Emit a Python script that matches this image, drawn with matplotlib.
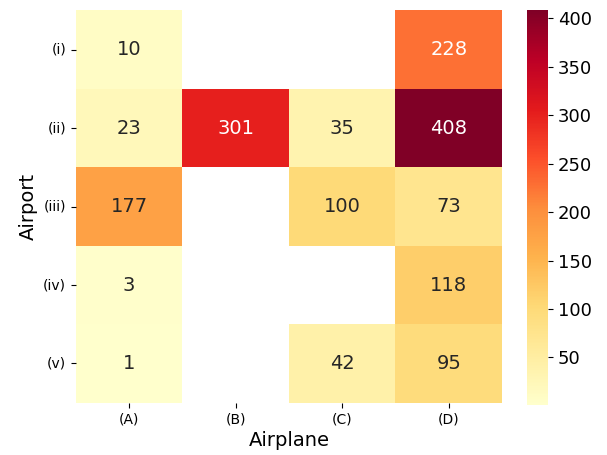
import numpy as np
import matplotlib
matplotlib.use('Agg')
import matplotlib.pyplot as plt
import seaborn as sns

airplanes = ['(A)', '(B)', '(C)', '(D)']
airports = ['(i)', '(ii)', '(iii)', '(iv)', '(v)']
counts = np.array([
    [10, np.nan, np.nan, 228],
    [23, 301, 35, 408],
    [177, np.nan, 100, 73],
    [3, np.nan, np.nan, 118],
    [1, np.nan, 42, 95],
])

fig = plt.figure(figsize=(6.07, 4.55), dpi=100)
ax = fig.add_axes([0.125, 0.115, 0.702, 0.862])
cax = fig.add_axes([0.868, 0.11, 0.035, 0.867])
sns.heatmap(counts, ax=ax, cbar_ax=cax, cmap='YlOrRd', annot=True, fmt='.0f',
            annot_kws={'size': 14}, xticklabels=airplanes, yticklabels=airports)
ax.set_xlabel('Airplane', fontsize=14, labelpad=3)
ax.set_ylabel('Airport', fontsize=14, labelpad=4)
ax.tick_params(labelsize=10)
ax.set_yticklabels(airports, rotation=0)
cax.tick_params(labelsize=13)
fig.savefig('out.png', dpi=100)
